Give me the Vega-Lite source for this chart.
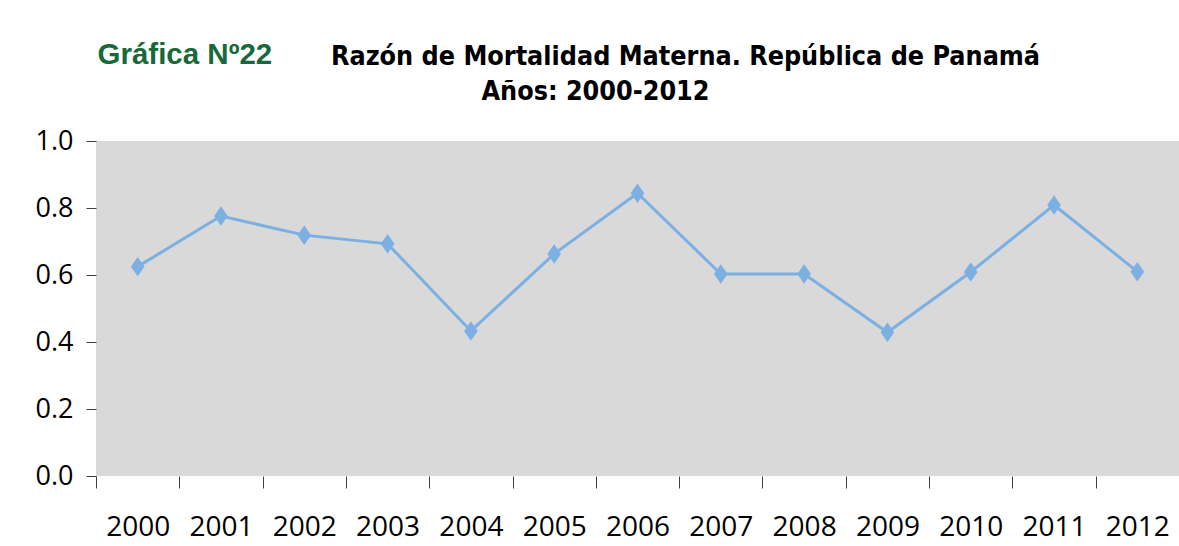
{
  "$schema": "https://vega.github.io/schema/vega-lite/v6.json",
  "width": 1083,
  "height": 335,
  "autosize": {"type": "none"},
  "padding": {"left": 96, "top": 141, "right": 0, "bottom": 70},
  "background": "white",
  "title": {
    "text": "Razón de Mortalidad Materna. República de Panamá",
    "anchor": "middle",
    "dx": 48,
    "dy": 53,
    "font": "DejaVu Sans Condensed",
    "fontSize": 26.7,
    "fontWeight": "bold",
    "color": "#000000",
    "baseline": "alphabetic",
    "offset": 0
  },
  "config": {
    "view": {"fill": "#d9d9d9", "stroke": null}
  },
  "data": {
    "values": [
      {"year": "2000", "value": 0.625},
      {"year": "2001", "value": 0.776},
      {"year": "2002", "value": 0.719},
      {"year": "2003", "value": 0.693},
      {"year": "2004", "value": 0.433},
      {"year": "2005", "value": 0.663},
      {"year": "2006", "value": 0.844},
      {"year": "2007", "value": 0.603},
      {"year": "2008", "value": 0.603},
      {"year": "2009", "value": 0.429},
      {"year": "2010", "value": 0.609},
      {"year": "2011", "value": 0.809},
      {"year": "2012", "value": 0.61}
    ]
  },
  "encoding": {
    "x": {
      "field": "year",
      "type": "ordinal",
      "scale": {"paddingInner": 0, "paddingOuter": 0},
      "axis": {
        "title": "Años: 2000-2012",
        "titleFont": "DejaVu Sans Condensed",
        "titleFontSize": 26.7,
        "titleFontWeight": "bold",
        "titleColor": "#000000",
        "titleAnchor": "start",
        "titleAlign": "center",
        "titleX": 499,
        "titleY": -377,
        "titleBaseline": "alphabetic",
        "labelAngle": 0,
        "labelFont": "Open Sans",
        "labelFontSize": 28,
        "labelColor": "#000000",
        "labelBaseline": "alphabetic",
        "labelPadding": 47,
        "tickBand": "extent",
        "domain": false,
        "ticks": true,
        "tickSize": 12,
        "tickColor": "#404040",
        "tickWidth": 1
      }
    },
    "y": {
      "field": "value",
      "type": "quantitative",
      "scale": {"domain": [0, 1], "nice": false},
      "axis": {
        "values": [0, 0.2, 0.4, 0.6, 0.8, 1.0],
        "format": ".1f",
        "title": "Gráfica Nº22",
        "titleAngle": 0,
        "titleFont": "Liberation Sans",
        "titleFontSize": 29.5,
        "titleFontWeight": "bold",
        "titleColor": "#17693a",
        "titleAlign": "left",
        "titleAnchor": "start",
        "titleBaseline": "alphabetic",
        "titleX": 1,
        "titleY": -78,
        "labelFont": "Open Sans",
        "labelFontSize": 27,
        "labelColor": "#000000",
        "labelPadding": 13,
        "grid": false,
        "domain": false,
        "tickSize": 10,
        "tickColor": "#404040",
        "tickWidth": 1
      }
    }
  },
  "layer": [
    {
      "mark": {"type": "line", "color": "#7cb0e2", "strokeWidth": 3}
    },
    {
      "mark": {
        "type": "point",
        "filled": true,
        "opacity": 1,
        "color": "#7cb0e2",
        "shape": "M0,-1L0.7,0L0,1L-0.7,0Z",
        "size": 380
      }
    }
  ]
}
